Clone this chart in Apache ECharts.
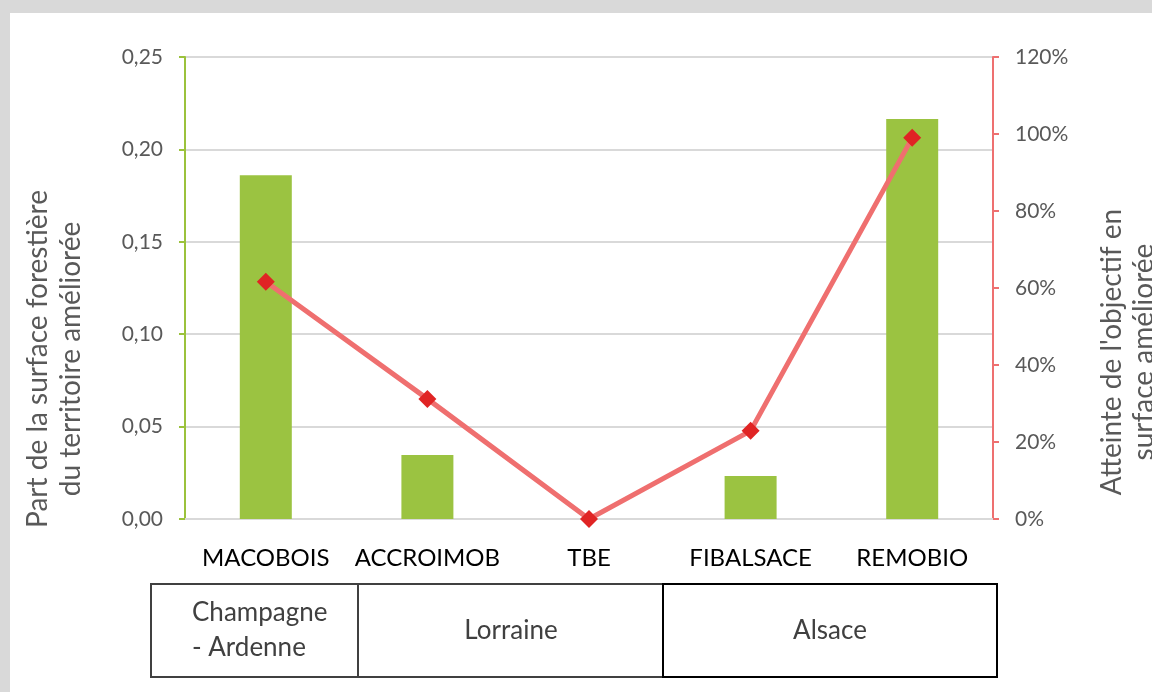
<!DOCTYPE html>
<html><head><meta charset="utf-8">
<script src="https://cdn.jsdelivr.net/npm/echarts@6/dist/echarts.min.js"></script>
<style>html,body{margin:0;padding:0;background:#d9d9d9;}#c{width:1152px;height:692px;}</style>
</head><body><div id="c"></div>
<script>
const categories = ['MACOBOIS','ACCROIMOB','TBE','FIBALSACE','REMOBIO'];
const partSurface = [0.186, 0.0346, 0, 0.0233, 0.2165];
const atteinte = [0.616, 0.312, 0, 0.229, 0.99];
const regions = ['Champagne\n- Ardenne','Lorraine','Alsace'];
const leftTicks = [0, 0.25, 0.05];
const rightTicks = [0, 1.2, 0.2];

const FONT = 'Lato, "Open Sans", sans-serif';
const chart = echarts.init(document.getElementById('c'), null, {renderer:'canvas'});
chart.setOption({
  backgroundColor: '#d9d9d9',
  animation: false,
  grid: {left:185, right:159, top:57, bottom:173},
  xAxis: {
    type:'category', data:categories,
    axisLine:{lineStyle:{color:'#d9d9d9', width:2}},
    axisTick:{show:false},
    axisLabel:{color:'#000', fontSize:24, fontFamily:FONT, margin:27, interval:0, hideOverlap:false}
  },
  yAxis: [{
    type:'value', min:leftTicks[0], max:leftTicks[1], interval:leftTicks[2],
    axisLine:{show:true, lineStyle:{color:'#9bc23c', width:2}},
    axisTick:{show:true, length:6, lineStyle:{color:'#9bc23c', width:2}},
    splitLine:{lineStyle:{color:'#d9d9d9', width:2}},
    axisLabel:{color:'#595959', fontSize:21, fontFamily:FONT, margin:22,
      formatter:v=>v.toFixed(2).replace('.',',')}
  },{
    type:'value', min:rightTicks[0], max:rightTicks[1], interval:rightTicks[2],
    axisLine:{show:true, lineStyle:{color:'#ee7070', width:2}},
    axisTick:{show:true, length:6, lineStyle:{color:'#ee7070', width:2}},
    splitLine:{show:false},
    axisLabel:{color:'#595959', fontSize:21, fontFamily:FONT, margin:22,
      formatter:v=>Math.round(v*100)+'%'}
  }],
  series: [{
    type:'bar', data:partSurface, barWidth:52, yAxisIndex:0,
    itemStyle:{color:'#9bc341'}
  },{
    type:'line', data:atteinte, yAxisIndex:1,
    lineStyle:{color:'#ef6f6f', width:5},
    symbol:'diamond', symbolSize:18,
    itemStyle:{color:'#e02424'}
  }],
  graphic: [
    {type:'rect', shape:{x:10,y:13,width:1142,height:679}, style:{fill:'#fff'}, z:-10, silent:true},
    {type:'text', x:54, y:359, rotation:Math.PI/2, style:{text:'Part de la surface forestière\ndu territoire améliorée', fill:'#595959', font:'28px '+FONT, align:'center', verticalAlign:'middle', lineHeight:33}},
    {type:'text', x:1128, y:352, rotation:Math.PI/2, style:{text:"Atteinte de l'objectif en\nsurface améliorée", fill:'#595959', font:'28px '+FONT, align:'center', verticalAlign:'middle', lineHeight:32}},
    {type:'rect', shape:{x:151,y:584,width:207,height:93}, style:{fill:'none', stroke:'#404040', lineWidth:2}},
    {type:'rect', shape:{x:358,y:584,width:305,height:93}, style:{fill:'none', stroke:'#404040', lineWidth:2}},
    {type:'rect', shape:{x:663,y:584,width:334,height:93}, style:{fill:'none', stroke:'#000', lineWidth:2}},
    {type:'text', x:192, y:630, style:{text:regions[0], fill:'#404040', font:'26px '+FONT, align:'left', verticalAlign:'middle', lineHeight:35}},
    {type:'text', x:511, y:631, style:{text:regions[1], fill:'#404040', font:'26px '+FONT, align:'center', verticalAlign:'middle'}},
    {type:'text', x:830, y:631, style:{text:regions[2], fill:'#404040', font:'26px '+FONT, align:'center', verticalAlign:'middle'}}
  ]
});
</script></body></html>
